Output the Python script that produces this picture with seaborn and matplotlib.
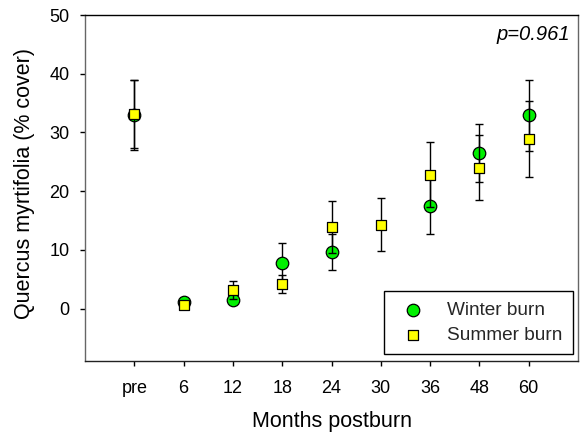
import numpy as np
import pandas as pd
import matplotlib
matplotlib.use("Agg")
import matplotlib.pyplot as plt
import seaborn as sns

# ---- data ----
months = ['pre', '6', '12', '18', '24', '30', '36', '48', '60']
winter_mean = [33.0, 1.1, 1.5, 7.7, 9.7, np.nan, 17.5, 26.5, 32.9]
winter_se = [5.9, 0.3, 0.5, 3.5, 3.1, np.nan, 4.8, 5.0, 6.0]
summer_mean = [33.2, 0.7, 3.2, 4.2, 13.9, 14.3, 22.8, 24.0, 28.9]
summer_se = [5.8, 0.3, 1.6, 1.6, 4.4, 4.5, 5.5, 5.5, 6.4]
series_labels = ['Winter burn', 'Summer burn']
y_ticks = [0, 10, 20, 30, 40, 50]
p_text = 'p=0.961'

sns.set_theme(style='ticks')
plt.rcParams['font.family'] = ['Liberation Sans', 'DejaVu Sans']

pos = np.arange(len(months))
df_w = pd.DataFrame({'x': pos, 'mean': winter_mean, 'se': winter_se}).dropna()
df_s = pd.DataFrame({'x': pos, 'mean': summer_mean, 'se': summer_se}).dropna()

fig = plt.figure(figsize=(5.86, 4.34), dpi=100)
ax = fig.add_axes([0.1451, 0.1682, 0.8413, 0.7972])

# winter: error bars then markers
ax.errorbar(df_w['x'], df_w['mean'], yerr=df_w['se'], fmt='none', ecolor='black',
            elinewidth=1.0, capsize=2.6, capthick=1.0, zorder=2)
sns.scatterplot(data=df_w, x='x', y='mean', ax=ax, color='#00f000', marker='o',
                s=81, edgecolor='black', linewidth=0.9, zorder=3, label=series_labels[0])
# summer: error bars then markers
ax.errorbar(df_s['x'], df_s['mean'], yerr=df_s['se'], fmt='none', ecolor='black',
            elinewidth=1.0, capsize=2.6, capthick=1.0, zorder=4)
sns.scatterplot(data=df_s, x='x', y='mean', ax=ax, color='#ffff00', marker='s',
                s=59, edgecolor='black', linewidth=0.9, zorder=5, label=series_labels[1])

ax.set_xlim(-1, 9)
ax.set_ylim(-8.9, 50)
ax.set_xticks(pos)
ax.set_xticklabels(months)
ax.set_yticks(y_ticks)

for side in ['top', 'right', 'left', 'bottom']:
    ax.spines[side].set_visible(True)
    ax.spines[side].set_linewidth(1.0)
ax.spines['top'].set_color('black')
ax.spines['bottom'].set_color('#222222')
ax.spines['left'].set_color('#666666')
ax.spines['right'].set_color('#666666')

ax.tick_params(axis='x', direction='out', length=3.6, width=1, pad=10, labelsize=13,
               colors='black', bottom=True, top=False)
ax.tick_params(axis='y', direction='out', length=3.6, width=1, pad=7.7, labelsize=13,
               colors='black', left=True, right=False)

ax.set_xlabel('Months postburn', fontsize=15.5, color='black')
ax.set_ylabel('Quercus myrtifolia (% cover)', fontsize=15.5, color='black')
ax.xaxis.set_label_coords(0.5, -0.145)
ax.yaxis.set_label_coords(-0.101, 0.514)

ax.text(0.984, 0.945, p_text, transform=ax.transAxes, ha='right', va='center',
        fontsize=14.5, style='italic', color='black')

leg = ax.legend(loc='lower right', bbox_to_anchor=(0.990, 0.020), frameon=True,
                fancybox=False, framealpha=1, edgecolor='black', fontsize=13.7,
                borderpad=0.55, labelspacing=0.4, handletextpad=0.8,
                borderaxespad=0, handlelength=2.0)
leg.get_frame().set_linewidth(1.0)

fig.savefig('out.png', dpi=100)
